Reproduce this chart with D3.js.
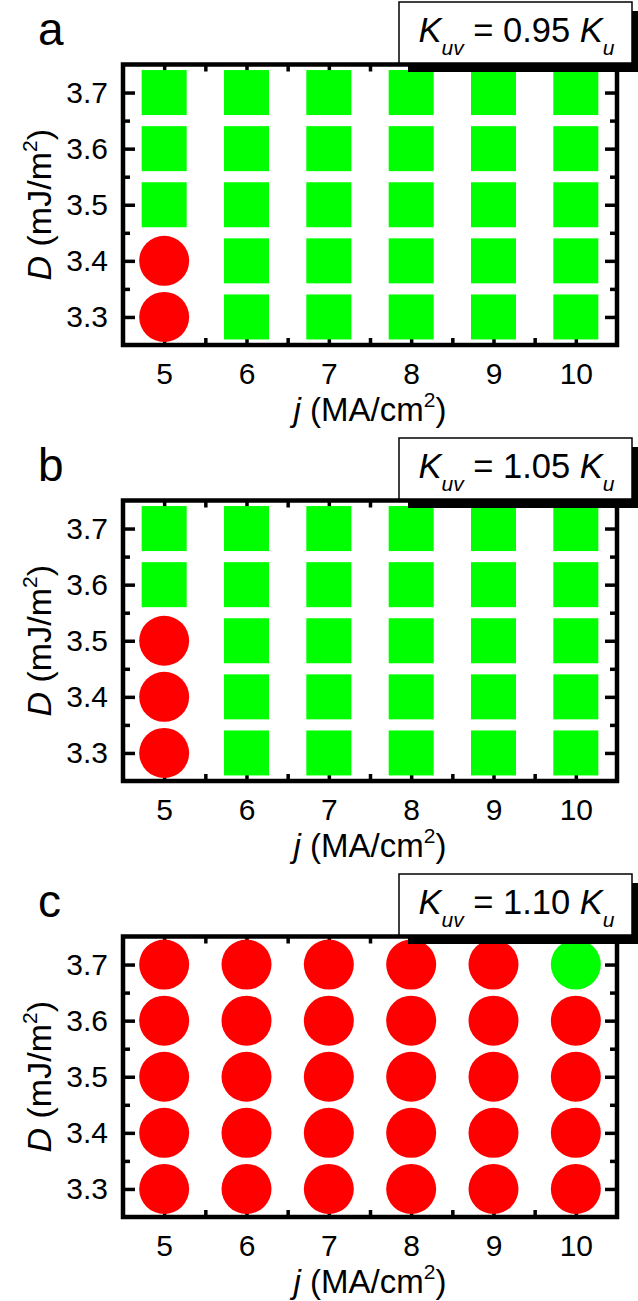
<!DOCTYPE html>
<html>
<head>
<meta charset="utf-8">
<script src="https://cdn.jsdelivr.net/npm/d3@7"></script>
<style>
  html, body { margin: 0; padding: 0; background: #fff; }
  svg { display: block; font-family: "Liberation Sans", Arial, sans-serif; }
</style>
</head>
<body>
<script>
// ---------------- data ----------------
const jValues = [5, 6, 7, 8, 9, 10];           // x categories (MA/cm^2)
const jMinorTicks = [5.5, 6.5, 7.5, 8.5, 9.5];
const dValues = [3.3, 3.4, 3.5, 3.6, 3.7];     // y categories (mJ/m^2)
const dMinorTicks = [3.35, 3.45, 3.55, 3.65];
const panelLetters = ["a", "b", "c"];
const kuvRatios = ["0.95", "1.05", "1.10"];
// marker codes, rows follow dValues (3.3 .. 3.7), columns follow jValues (5 .. 10)
// S = green square, R = red circle, G = green circle
const markersA = [
  ["R", "S", "S", "S", "S", "S"],
  ["R", "S", "S", "S", "S", "S"],
  ["S", "S", "S", "S", "S", "S"],
  ["S", "S", "S", "S", "S", "S"],
  ["S", "S", "S", "S", "S", "S"]
];
const markersB = [
  ["R", "S", "S", "S", "S", "S"],
  ["R", "S", "S", "S", "S", "S"],
  ["R", "S", "S", "S", "S", "S"],
  ["S", "S", "S", "S", "S", "S"],
  ["S", "S", "S", "S", "S", "S"]
];
const markersC = [
  ["R", "R", "R", "R", "R", "R"],
  ["R", "R", "R", "R", "R", "R"],
  ["R", "R", "R", "R", "R", "R"],
  ["R", "R", "R", "R", "R", "R"],
  ["R", "R", "R", "R", "R", "G"]
];
const panelMarkers = [markersA, markersB, markersC];

// ---------------- layout ----------------
const W = 638, H = 1301;
const panelStep = 436;
const pLeft = 123, pRight = 617, pTop = 64.5, pBottom = 345;
const GREEN = "#00ff00", RED = "#ff0000";

const svg = d3.select("body").append("svg").attr("width", W).attr("height", H);

const x = d3.scaleLinear().domain([4.5, 10.5]).range([pLeft, pRight]);
const y = d3.scaleLinear().domain([3.25, 3.75]).range([pBottom, pTop]);

panelLetters.forEach((letter, p) => {
  const g = svg.append("g").attr("transform", `translate(0,${p * panelStep})`);

  // axes with inward ticks
  const major = 12, minor = 7;
  const styleAxis = sel => {
    sel.select(".domain").remove();
    sel.selectAll("line").attr("stroke", "#000").attr("stroke-width", 3.5);
    sel.selectAll("text").attr("fill", "#000").style("font-size", "30px")
       .style("font-family", "'Liberation Sans', Arial, sans-serif");
  };
  g.append("g").attr("transform", `translate(0,${pBottom})`)
    .call(d3.axisBottom(x).tickValues(jValues).tickSize(-major).tickPadding(18).tickFormat(d3.format("d")))
    .call(styleAxis);
  g.append("g").attr("transform", `translate(0,${pBottom})`)
    .call(d3.axisBottom(x).tickValues(jMinorTicks).tickSize(-minor).tickFormat(""))
    .call(styleAxis);
  g.append("g").attr("transform", `translate(0,${pTop})`)
    .call(d3.axisTop(x).tickValues(jValues).tickSize(-major).tickFormat(""))
    .call(styleAxis);
  g.append("g").attr("transform", `translate(0,${pTop})`)
    .call(d3.axisTop(x).tickValues(jMinorTicks).tickSize(-minor).tickFormat(""))
    .call(styleAxis);
  g.append("g").attr("transform", `translate(${pLeft},0)`)
    .call(d3.axisLeft(y).tickValues(dValues).tickSize(-major).tickPadding(15).tickFormat(d3.format(".1f")))
    .call(styleAxis);
  g.append("g").attr("transform", `translate(${pLeft},0)`)
    .call(d3.axisLeft(y).tickValues(dMinorTicks).tickSize(-minor).tickFormat(""))
    .call(styleAxis);
  g.append("g").attr("transform", `translate(${pRight},0)`)
    .call(d3.axisRight(y).tickValues(dValues).tickSize(-major).tickFormat(""))
    .call(styleAxis);
  g.append("g").attr("transform", `translate(${pRight},0)`)
    .call(d3.axisRight(y).tickValues(dMinorTicks).tickSize(-minor).tickFormat(""))
    .call(styleAxis);

  // frame
  g.append("rect").attr("x", pLeft).attr("y", pTop)
    .attr("width", pRight - pLeft).attr("height", pBottom - pTop)
    .attr("fill", "none").attr("stroke", "#000").attr("stroke-width", 4.5);

  // markers
  const cells = [];
  panelMarkers[p].forEach((row, i) => row.forEach((code, k) => cells.push({ j: jValues[k], d: dValues[i], code })));
  const side = 45, r = 25;
  g.selectAll("rect.sq").data(cells.filter(c => c.code === "S")).join("rect")
    .attr("class", "sq")
    .attr("x", c => x(c.j) - side / 2).attr("y", c => y(c.d) - side / 2)
    .attr("width", side).attr("height", side).attr("fill", GREEN);
  g.selectAll("circle.ci").data(cells.filter(c => c.code !== "S")).join("circle")
    .attr("class", "ci")
    .attr("cx", c => x(c.j)).attr("cy", c => y(c.d)).attr("r", r)
    .attr("fill", c => c.code === "R" ? RED : GREEN);

  // axis titles
  const xt = g.append("text").attr("x", (pLeft + pRight) / 2).attr("y", pBottom + 76)
    .attr("text-anchor", "middle").style("font-size", "33px").attr("fill", "#000");
  xt.append("tspan").style("font-style", "italic").text("j");
  xt.append("tspan").text(" (MA/cm");
  xt.append("tspan").attr("dy", -14).style("font-size", "21px").text("2");
  xt.append("tspan").attr("dy", 14).text(")");

  const yt = g.append("text").attr("transform", `translate(51,${(pTop + pBottom) / 2}) rotate(-90)`)
    .attr("text-anchor", "middle").style("font-size", "34px").attr("fill", "#000");
  yt.append("tspan").style("font-style", "italic").text("D");
  yt.append("tspan").text(" (mJ/m");
  yt.append("tspan").attr("dy", -14).style("font-size", "21px").text("2");
  yt.append("tspan").attr("dy", 14).text(")");

  // panel letter
  g.append("text").attr("x", 38).attr("y", 45).style("font-size", "46px").attr("fill", "#000").text(letter);

  // K_uv label box with shadow
  const bx = 399, by = 2, bw = 233, bh = 61, off = 9;
  g.append("rect").attr("x", bx + off).attr("y", by + off).attr("width", bw).attr("height", bh).attr("fill", "#000");
  g.append("rect").attr("x", bx).attr("y", by).attr("width", bw).attr("height", bh)
    .attr("fill", "#fff").attr("stroke", "#000").attr("stroke-width", 1.5);
  const kt = g.append("text").attr("x", bx + bw / 2 + 1).attr("y", by + 40)
    .attr("text-anchor", "middle").style("font-size", "34.5px").attr("fill", "#000");
  kt.append("tspan").style("font-style", "italic").text("K");
  kt.append("tspan").attr("dy", 13).style("font-style", "italic").style("font-size", "21px").text("uv");
  kt.append("tspan").attr("dy", -13).text(` = ${kuvRatios[p]} `);
  kt.append("tspan").style("font-style", "italic").text("K");
  kt.append("tspan").attr("dy", 13).style("font-style", "italic").style("font-size", "21px").text("u");
});
</script>
</body>
</html>
